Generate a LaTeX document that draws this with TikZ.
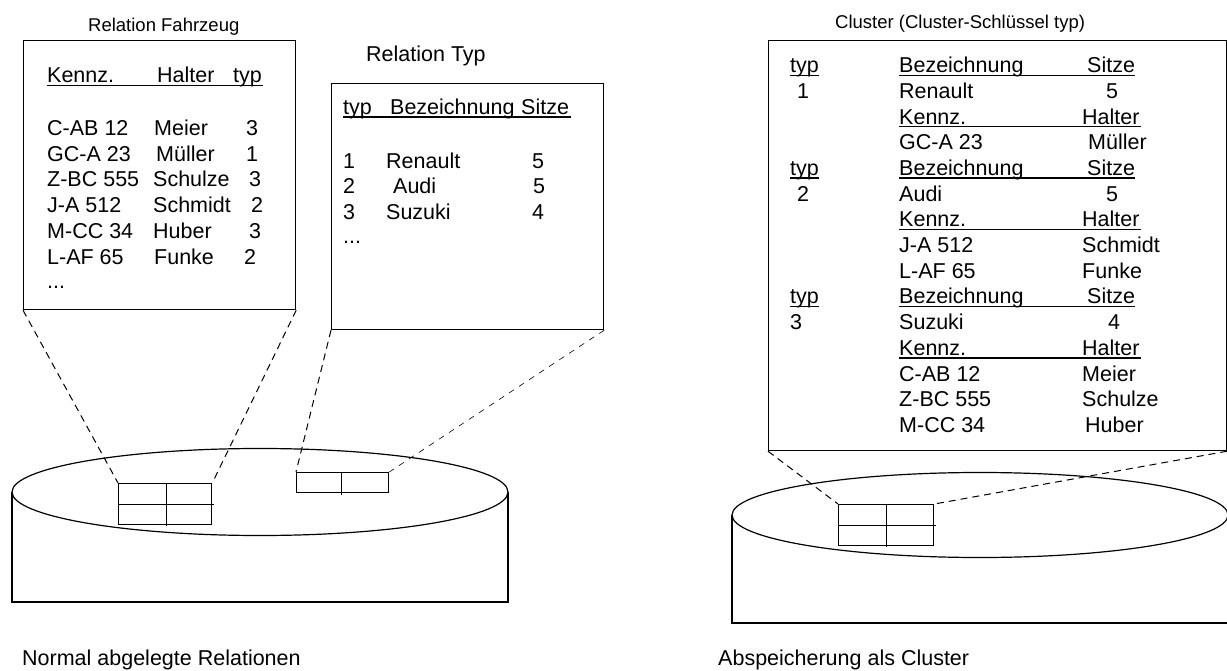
\documentclass[tikz,border=0pt]{standalone}
\usepackage{fontspec}
\setmainfont{Liberation Sans}
\begin{document}
\begin{tikzpicture}[x=1pt,y=-1pt,
  body/.style={anchor=base west,inner sep=0pt,font=\fontsize{21.5}{25}\selectfont},
  ttl/.style={anchor=base west,inner sep=0pt,font=\fontsize{18.5}{22}\selectfont},
  frame/.style={draw,line width=1.2pt,inner sep=0pt,anchor=north west},
  cell/.style={draw,line width=1.3pt,inner sep=0pt,anchor=north west},
  dsh/.style={line width=1pt,dash pattern=on 7pt off 5pt},
  fdsh/.style={line width=0.6pt,dash pattern=on 6pt off 6pt},
  uline/.style={line width=1.3pt},
  cyl/.style={line width=1.2pt}
]
\useasboundingbox (0,0) rectangle (1227,671);

% ---------------- Relation Fahrzeug ----------------
\node[ttl] (tF) at (88,31.5) {Relation Fahrzeug};
\node[frame,minimum width=272pt,minimum height=269pt] (boxF) at (23,40) {};
\node[body] (fh1) at (47,83) {Kennz.};
\node[body] (fh2) at (157,83) {Halter};
\node[body] (fh3) at (233,83) {typ};
\draw[uline] (47,85.5) -- (263,85.5);
\node[body] (f11) at (47,135.3) {C-AB 12};   \node[body] (f12) at (154,135.3) {Meier};   \node[body] (f13) at (246,135.3) {3};
\node[body] (f21) at (47,161.1) {GC-A 23};   \node[body] (f22) at (156,161.1) {Müller};  \node[body] (f23) at (246,161.1) {1};
\node[body] (f31) at (47,186.9) {Z-BC 555};  \node[body] (f32) at (153,186.9) {Schulze}; \node[body] (f33) at (249,186.9) {3};
\node[body] (f41) at (47,212.7) {J-A 512};   \node[body] (f42) at (153,212.7) {Schmidt}; \node[body] (f43) at (251,212.7) {2};
\node[body] (f51) at (47,238.5) {M-CC 34};   \node[body] (f52) at (153,238.5) {Huber};   \node[body] (f53) at (249,238.5) {3};
\node[body] (f61) at (47,264.3) {L-AF 65};   \node[body] (f62) at (154,264.3) {Funke};   \node[body] (f63) at (244,264.3) {2};
\node[body] (f71) at (47,288) {...};

% ---------------- Relation Typ ----------------
\node[body] (tT) at (366,61.7) {Relation Typ};
\node[frame,minimum width=272pt,minimum height=246pt] (boxT) at (331,83) {};
\node[body] (th1) at (343,114.5) {typ};
\node[body] (th2) at (390,114.5) {Bezeichnung};
\node[body] (th3) at (521,114.5) {Sitze};
\draw[uline] (343,117) -- (571,117);
\node[body] (t11) at (343,168.4) {1}; \node[body] (t12) at (386,168.4) {Renault}; \node[body] (t13) at (532,168.4) {5};
\node[body] (t21) at (343,193.9) {2}; \node[body] (t22) at (393,193.9) {Audi};    \node[body] (t23) at (533,193.9) {5};
\node[body] (t31) at (343,219.4) {3}; \node[body] (t32) at (386,219.4) {Suzuki};  \node[body] (t33) at (532,219.4) {4};
\node[body] (t41) at (343,244) {...};

% ---------------- left cylinder ----------------
\draw[cyl] (12,492) -- (12,602) -- (508,602) -- (508,492);
\draw[cyl,fill=white] (260,492) ellipse [x radius=248pt, y radius=43.5pt];
\node[cell,minimum width=93pt,minimum height=41pt] (gF) at (118,483) {};
\draw[line width=1.3pt] (gF.west) -- ([xshift=2pt]gF.east);
\draw[line width=1pt] ([xshift=1.5pt]gF.north) -- ([xshift=1.5pt,yshift=-1pt]gF.south);
\node[cell,minimum width=92pt,minimum height=20pt] (gT) at (296,472) {};
\draw[line width=1.3pt] ([xshift=-1pt]gT.north) -- ([xshift=-1pt,yshift=-2pt]gT.south);

\draw[dsh] (boxF.south west) -- (gF.north west);
\draw[dsh] (boxF.south east) -- (gF.north east);
\draw[dsh] (boxT.south west) -- (gT.north west);
\draw[fdsh] (boxT.south east) -- (gT.north east);

\node[body] (capL) at (22,665) {Normal abgelegte Relationen};

% ---------------- Cluster ----------------
\node[ttl] (tC) at (835,28.5) {Cluster (Cluster-Schlüssel typ)};
\node[frame,minimum width=458pt,minimum height=410pt] (boxC) at (768,40) {};

\node[body] (c0a) at (790,72.7) {typ}; \node[body] (c0b) at (899,72.7) {Bezeichnung}; \node[body] (c0c) at (1087,72.7) {Sitze};
\draw[uline] (790,75.2) -- (819,75.2); \draw[uline] (899,75.2) -- (1135,75.2);
\node[body] (c1a) at (797,98.4) {1}; \node[body] (c1b) at (899,98.4) {Renault}; \node[body] (c1c) at (1106,98.4) {5};
\node[body] (c2b) at (899,124.1) {Kennz.}; \node[body] (c2c) at (1082,124.1) {Halter};
\draw[uline] (899,126.6) -- (1141,126.6);
\node[body] (c3b) at (899,149.8) {GC-A 23}; \node[body] (c3c) at (1088,149.8) {Müller};

\node[body] (c4a) at (790,175.5) {typ}; \node[body] (c4b) at (899,175.5) {Bezeichnung}; \node[body] (c4c) at (1087,175.5) {Sitze};
\draw[uline] (790,178) -- (819,178); \draw[uline] (899,178) -- (1135,178);
\node[body] (c5a) at (797,201.2) {2}; \node[body] (c5b) at (899,201.2) {Audi}; \node[body] (c5c) at (1106,201.2) {5};
\node[body] (c6b) at (899,226.9) {Kennz.}; \node[body] (c6c) at (1082,226.9) {Halter};
\draw[uline] (899,229.4) -- (1141,229.4);
\node[body] (c7b) at (899,252.6) {J-A 512}; \node[body] (c7c) at (1082,252.6) {Schmidt};
\node[body] (c8b) at (899,278.3) {L-AF 65}; \node[body] (c8c) at (1082,278.3) {Funke};

\node[body] (c9a) at (790,304) {typ}; \node[body] (c9b) at (899,304) {Bezeichnung}; \node[body] (c9c) at (1087,304) {Sitze};
\draw[uline] (790,306.5) -- (819,306.5); \draw[uline] (899,306.5) -- (1135,306.5);
\node[body] (c10a) at (790,329.7) {3}; \node[body] (c10b) at (899,329.7) {Suzuki}; \node[body] (c10c) at (1108,329.7) {4};
\node[body] (c11b) at (899,355.4) {Kennz.}; \node[body] (c11c) at (1082,355.4) {Halter};
\draw[uline] (899,357.9) -- (1141,357.9);
\node[body] (c12b) at (899,381.1) {C-AB 12}; \node[body] (c12c) at (1082,381.1) {Meier};
\node[body] (c13b) at (899,406.8) {Z-BC 555}; \node[body] (c13c) at (1082,406.8) {Schulze};
\node[body] (c14b) at (899,432.5) {M-CC 34}; \node[body] (c14c) at (1085,432.5) {Huber};

% ---------------- right cylinder ----------------
\draw[cyl] (732,515) -- (732,623) -- (1228,623) -- (1228,515);
\draw[cyl,fill=white] (980,515) ellipse [x radius=248pt, y radius=42.5pt];
\node[cell,minimum width=95pt,minimum height=41pt] (gC) at (838,504) {};
\draw[line width=1.3pt] (gC.west) -- ([xshift=2pt]gC.east);
\draw[line width=1pt] ([xshift=0.5pt]gC.north) -- ([xshift=0.5pt,yshift=-1pt]gC.south);

\draw[dsh] (boxC.south west) -- (gC.north west);
\draw[dsh] (boxC.south east) -- (gC.north east);

\node[body] (capR) at (718,665) {Abspeicherung als Cluster};
\end{tikzpicture}
\end{document}
